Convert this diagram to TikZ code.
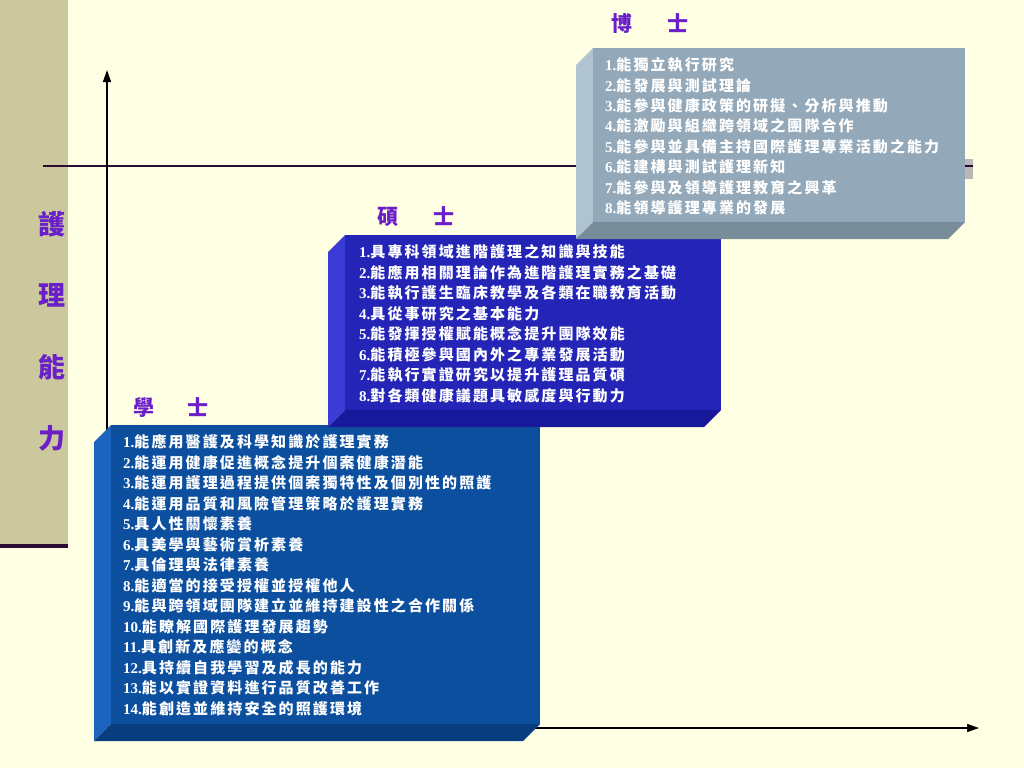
\documentclass[tikz,border=0pt]{standalone}
\usepackage{fontspec}
\setmainfont{Liberation Serif}
\newfontfamily\cjk{Noto Sans CJK TC}
\newfontfamily\cjkwide{Noto Sans CJK TC}[LetterSpace=14]
\usetikzlibrary{arrows.meta}
\definecolor{paper}{HTML}{FFFFE3}
\definecolor{strip}{HTML}{CBC89E}
\definecolor{rule}{HTML}{2B0B33}
\definecolor{degcol}{HTML}{6A1FC8}
\definecolor{phdface}{HTML}{93A8B8}
\definecolor{phdside}{HTML}{AFC3D1}
\definecolor{phdbot}{HTML}{788C99}
\definecolor{msface}{HTML}{2424B6}
\definecolor{msside}{HTML}{3B3BD6}
\definecolor{msbot}{HTML}{18189A}
\definecolor{bsface}{HTML}{0C4F9E}
\definecolor{bsside}{HTML}{1C64BD}
\definecolor{bsbot}{HTML}{083E7E}
\newcommand\nr[1]{{\rmfamily\bfseries #1.}}
% bevelled box: left, top, right, bottom, colour prefix
\newcommand\bevelbox[5]{%
  \fill[#5side] (#1,#2+17) -- (#1+17,#2) -- (#1+17,#4-17) -- (#1,#4) -- cycle;
  \fill[#5bot] (#1,#4) -- (#1+17,#4-17) -- (#3,#4-17) -- (#3-17,#4) -- cycle;
  \fill[#5face] (#1+17,#2) rectangle (#3,#4-17);}
\tikzset{
  item/.style={anchor=west,inner sep=0pt,text=white,font=\cjkwide\bfseries\fontsize{15}{17}\selectfont},
  degree/.style={inner sep=0pt,text=degcol,font=\cjk\bfseries\fontsize{21}{24}\selectfont},
  ability/.style={inner sep=0pt,text=degcol,font=\cjk\bfseries\fontsize{27}{30}\selectfont}}
\begin{document}
\begin{tikzpicture}[x=1pt,y=-1pt,line cap=butt]
\useasboundingbox (0,0) rectangle (1024,768);
\fill[paper] (0,0) rectangle (1024,768);
\fill[strip] (0,0) rectangle (68,546);
\draw[rule,line width=4pt] (0,546) -- (68,546);
% level line
\fill[black!28] (965,159) rectangle (973,179);
\coordinate (lvlA) at (43,166);
\coordinate (lvlB) at (973,166);
\draw[rule,line width=2.6pt] (lvlA) -- (lvlB);
% axes
\coordinate (origin) at (107,728);
\coordinate (ytop) at (107,70);
\coordinate (xend) at (979,728);
\draw[line width=1.4pt,-{Triangle[length=12pt,width=8pt]}] (origin) -- (ytop);
\draw[line width=1.4pt,-{Triangle[length=12pt,width=8pt]}] (origin) -- (xend);
% boxes
\bevelbox{94}{425}{540}{741}{bs}
\bevelbox{328}{235}{721}{427}{ms}
\bevelbox{576}{48}{965}{239}{phd}
% vertical label
\foreach \c [count=\i] in {護,理,能,力}
  \node[ability] (ab\i) at (52,{224+71.6*(\i-1)}) {\c};
\node[degree] (phd) at (650,23) {博\hspace{35pt}士};
\node[degree] (ms) at (416,217) {碩\hspace{35pt}士};
\node[degree] (bs) at (171,408) {學\hspace{33pt}士};
\foreach \t [count=\i] in {能獨立執行研究,能發展與測試理論,能參與健康政策的研擬、分析與推動,能激勵與組織跨領域之團隊合作,能參與並具備主持國際護理專業活動之能力,能建構與測試護理新知,能參與及領導護理教育之興革,能領導護理專業的發展}
  \node[item] (phd\i) at (605,{65+20.4*(\i-1)}) {\nr{\i}\t};
\foreach \t [count=\i] in {具專科領域進階護理之知識與技能,能應用相關理論作為進階護理實務之基礎,能執行護生臨床教學及各類在職教育活動,具從事研究之基本能力,能發揮授權賦能概念提升團隊效能,能積極參與國內外之專業發展活動,能執行實證研究以提升護理品質碩,對各類健康議題具敏感度與行動力}
  \node[item] (ms\i) at (359,{252+20.5*(\i-1)}) {\nr{\i}\t};
\foreach \t [count=\i] in {能應用醫護及科學知識於護理實務,能運用健康促進概念提升個案健康潛能,能運用護理過程提供個案獨特性及個別性的照護,能運用品質和風險管理策略於護理實務,具人性關懷素養,具美學與藝術賞析素養,具倫理與法律素養,能適當的接受授權並授權他人,能與跨領域團隊建立並維持建設性之合作關係,能瞭解國際護理發展趨勢,具創新及應變的概念,具持續自我學習及成長的能力,能以實證資料進行品質改善工作,能創造並維持安全的照護環境}
  \node[item] (bs\i) at (123,{442+20.5*(\i-1)}) {\nr{\i}\t};
\end{tikzpicture}
\end{document}
